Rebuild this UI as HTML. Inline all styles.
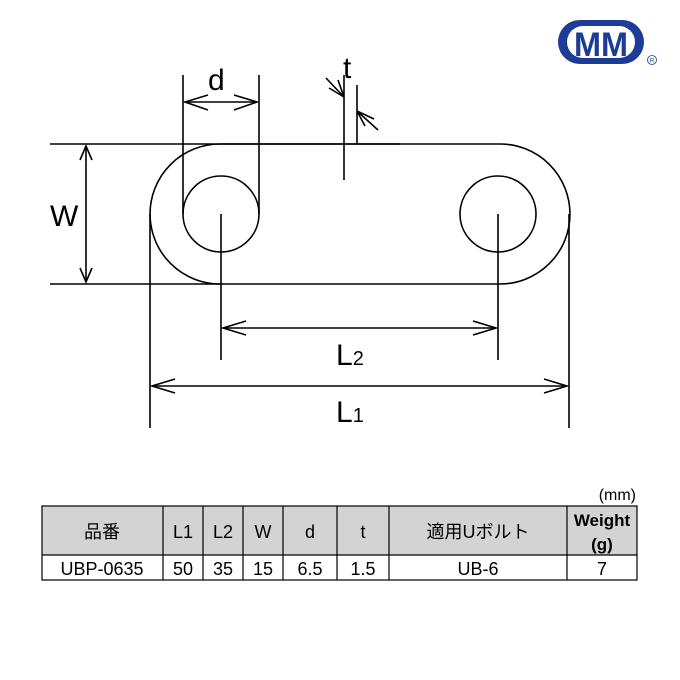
<!DOCTYPE html><html><head><style>body{margin:0;background:#fff}svg{display:block}</style></head><body>
<svg width="680" height="680" viewBox="0 0 680 680" xmlns="http://www.w3.org/2000/svg" font-family="'Liberation Sans','DejaVu Sans',sans-serif">
<g stroke="#000" stroke-width="1.6" fill="none">
<path d="M220 144 H500 A70 70 0 0 1 500 284 H220 A70 70 0 0 1 220 144 Z"/>
<circle cx="221" cy="214" r="38"/><circle cx="498" cy="214" r="38"/>
<line x1="50" y1="144" x2="400" y2="144"/><line x1="50" y1="284" x2="220" y2="284"/>
<line x1="86" y1="146" x2="86" y2="282"/>
<path d="M80 160 L86 146 L92 160 M80 268 L86 282 L92 268"/>
<line x1="183" y1="75" x2="183" y2="214"/><line x1="259" y1="75" x2="259" y2="214"/>
<line x1="185" y1="102" x2="257" y2="102"/>
<path d="M208 95 L185 102 L208 110 M234 95 L257 102 L234 110"/>
<line x1="344" y1="75" x2="344" y2="180"/><line x1="357" y1="85" x2="357" y2="144"/>
<path d="M326 78 L344 97 M329 88 L344 97 M338 80 L344 97"/>
<path d="M378 130 L357 111 M374 119 L357 111 M365 126 L357 111"/>
<line x1="221" y1="214" x2="221" y2="360"/><line x1="498" y1="214" x2="498" y2="360"/>
<line x1="223" y1="328" x2="496" y2="328"/>
<path d="M246 321 L223 328 L246 335 M473 321 L496 328 L473 335"/>
<line x1="150" y1="214" x2="150" y2="428"/><line x1="569" y1="214" x2="569" y2="428"/>
<line x1="152" y1="386" x2="567" y2="386"/>
<path d="M175 379 L152 386 L175 393 M544 379 L567 386 L544 393"/>
</g>
<g font-size="30" fill="#000">
<text x="208" y="90">d</text><text x="343" y="78">t</text><text x="50" y="226">W</text>
<text x="336" y="365">L<tspan font-size="20">2</tspan></text>
<text x="336" y="422">L<tspan font-size="20">1</tspan></text>
</g>
<rect x="558" y="20" width="86" height="44" rx="22" fill="#1d3c95"/>
<rect x="567" y="26" width="68" height="32" rx="16" fill="#fff"/>
<text x="601" y="56" font-size="34" font-weight="bold" fill="#1d3c95" text-anchor="middle" textLength="54" lengthAdjust="spacingAndGlyphs">MM</text>
<circle cx="652" cy="60" r="4.5" fill="none" stroke="#1d3c95" stroke-width="0.8"/><text x="652" y="62.5" font-size="6" fill="#1d3c95" text-anchor="middle">R</text>
<text x="636" y="500" font-size="16" text-anchor="end">(mm)</text>
<rect x="42" y="506" width="595" height="49" fill="#d3d3d3"/>
<g stroke="#000" stroke-width="1.2" fill="none">
<rect x="42" y="506" width="595" height="74"/><line x1="42" y1="555" x2="637" y2="555"/>
<line x1="163" y1="506" x2="163" y2="580"/><line x1="203" y1="506" x2="203" y2="580"/>
<line x1="243" y1="506" x2="243" y2="580"/><line x1="283" y1="506" x2="283" y2="580"/>
<line x1="337" y1="506" x2="337" y2="580"/><line x1="389" y1="506" x2="389" y2="580"/>
<line x1="567" y1="506" x2="567" y2="580"/>
</g>
<g font-size="18" text-anchor="middle" font-family="'Liberation Sans','Noto Sans CJK JP',sans-serif">
<text x="102" y="538">品番</text><text x="183" y="538">L1</text><text x="223" y="538">L2</text><text x="263" y="538">W</text><text x="310" y="538">d</text><text x="363" y="538">t</text><text x="478" y="538">適用Uボルト</text>
<text x="602" y="526" font-weight="bold" font-size="17">Weight</text><text x="602" y="550" font-weight="bold" font-size="17">(g)</text>
<text x="102" y="575">UBP-0635</text><text x="183" y="575">50</text><text x="223" y="575">35</text><text x="263" y="575">15</text><text x="310" y="575">6.5</text><text x="363" y="575">1.5</text><text x="478" y="575">UB-6</text><text x="602" y="575">7</text>
</g>
</svg></body></html>
